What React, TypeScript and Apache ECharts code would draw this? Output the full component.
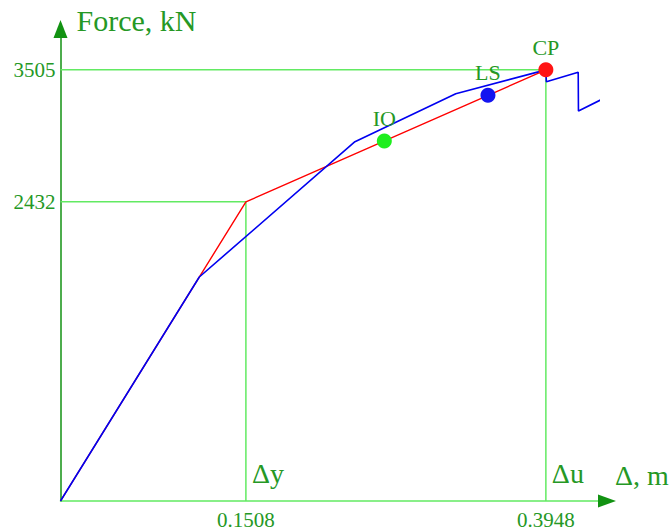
import React, { useEffect, useRef } from "react";
import * as echarts from "echarts";

// ---- data ----
const xTickValues = [0.1508, 0.3948];
const yTickValues = [2432, 3505];

const bilinearX = [0, 0.1508, 0.3948];
const bilinearY = [0, 2432, 3505];

const pushoverX = [0, 0.1129, 0.2395, 0.3215, 0.3948, 0.3952, 0.4211, 0.4213, 0.4402];
const pushoverY = [0, 1821, 2921, 3310, 3505, 3408, 3485, 3170, 3265];

const perfNames = ["IO", "LS", "CP"];
const perfX = [0.2634, 0.3477, 0.3948];
const perfY = [2927, 3298, 3505];

const dropNames = ["Δy", "Δu"];
const dropX = [0.1508, 0.3948];
const dropY = [2432, 3505];

// ---- styles ----
const FONT = "'Liberation Serif', 'Times New Roman', serif";
const TEXT_GREEN = "#259825";
const AXIS_GREEN = "#129212";
const LIGHT_GREEN = "#62ea62";
const perfColors = ["#1eee1e", "#1414f0", "#ff1414"];

const X_MAX = 0.4372;
const Y_MAX = 3764;

export default function App() {
  const ref = useRef<HTMLDivElement>(null);

  useEffect(() => {
    if (!ref.current) return;
    const chart = echarts.init(ref.current, null, { renderer: "svg" });

    const option: any = {
      animation: false,
      backgroundColor: "#ffffff",
      grid: { left: 60.5, bottom: 29, width: 537.5, height: 463, containLabel: false },
      xAxis: [
        {
          type: "value",
          min: 0,
          max: X_MAX,
          position: "bottom",
          name: "Δ, m",
          nameLocation: "end",
          nameGap: 17,
          nameTextStyle: {
            fontSize: 28,
            color: TEXT_GREEN,
            fontFamily: FONT,
            align: "left",
            verticalAlign: "bottom",
            padding: [0, 0, 12, 0],
          },
          axisLine: { show: true, onZero: false, lineStyle: { color: LIGHT_GREEN, width: 1.5 } },
          axisTick: { show: false },
          splitLine: { show: false },
          axisLabel: {
            customValues: xTickValues,
            formatter: (v: number) => v.toFixed(4),
            fontSize: 21,
            color: TEXT_GREEN,
            fontFamily: FONT,
            margin: 8,
          },
        },
        {
          type: "value",
          min: 0,
          max: X_MAX,
          position: "bottom",
          axisLine: {
            show: true,
            onZero: false,
            lineStyle: { color: AXIS_GREEN, width: 1.5, opacity: 0 },
            symbol: ["none", "triangle"],
            symbolSize: [13, 18],
            symbolOffset: [0, 9],
          },
          axisTick: { show: false },
          splitLine: { show: false },
          axisLabel: { show: false },
        },
      ],
      yAxis: [
        {
          type: "value",
          min: 0,
          max: Y_MAX,
          name: "Force, kN",
          nameLocation: "end",
          nameGap: 3,
          nameTextStyle: {
            fontSize: 30,
            color: TEXT_GREEN,
            fontFamily: FONT,
            align: "left",
            padding: [0, 0, 0, 16],
          },
          axisLine: {
            show: true,
            onZero: false,
            lineStyle: { color: AXIS_GREEN, width: 1.5 },
            symbol: ["none", "triangle"],
            symbolSize: [14, 18],
            symbolOffset: [0, 9],
          },
          axisTick: { show: false },
          splitLine: { show: false },
          axisLabel: {
            customValues: yTickValues,
            formatter: (v: number) => String(v),
            fontSize: 21,
            color: TEXT_GREEN,
            fontFamily: FONT,
            margin: 5,
          },
        },
      ],
      series: [
        ...dropX.map((x, i) => ({
          type: "line",
          data: [
            [0, dropY[i]],
            [x, dropY[i]],
            [x, 0],
          ],
          symbol: "none",
          silent: true,
          lineStyle: { color: LIGHT_GREEN, width: 1.5 },
          z: 1,
        })),
        {
          type: "line",
          name: "Bilinear",
          data: bilinearX.map((x, i) => [x, bilinearY[i]]),
          symbol: "none",
          lineStyle: { color: "#ff0000", width: 1.4 },
          z: 2,
        },
        {
          type: "line",
          name: "Pushover",
          data: pushoverX.map((x, i) => [x, pushoverY[i]]),
          symbol: "none",
          clip: false,
          lineStyle: { color: "#0000f0", width: 1.6 },
          z: 3,
        },
        {
          type: "scatter",
          data: perfX.map((x, i) => ({
            name: perfNames[i],
            value: [x, perfY[i]],
            itemStyle: { color: perfColors[i], opacity: 1 },
          })),
          symbolSize: 15,
          itemStyle: { opacity: 1 },
          label: {
            show: true,
            position: "top",
            distance: 4,
            formatter: (p: any) => p.name,
            fontSize: 22,
            color: TEXT_GREEN,
            opacity: 1,
            fontFamily: FONT,
          },
          z: 4,
        },
        {
          type: "scatter",
          data: dropX.map((x, i) => ({ name: dropNames[i], value: [x, 0] })),
          symbolSize: 0,
          silent: true,
          itemStyle: { opacity: 1 },
          label: {
            show: true,
            position: [6, -14],
            align: "left",
            verticalAlign: "bottom",
            formatter: (p: any) => p.name,
            fontSize: 28,
            color: TEXT_GREEN,
            opacity: 1,
            fontFamily: FONT,
          },
          z: 4,
        },
      ],
    };

    chart.setOption(option);
    return () => chart.dispose();
  }, []);

  return (
    <div
      ref={ref}
      style={{ position: "absolute", left: 0, top: 0, width: 672, height: 530, background: "#fff" }}
    />
  );
}
